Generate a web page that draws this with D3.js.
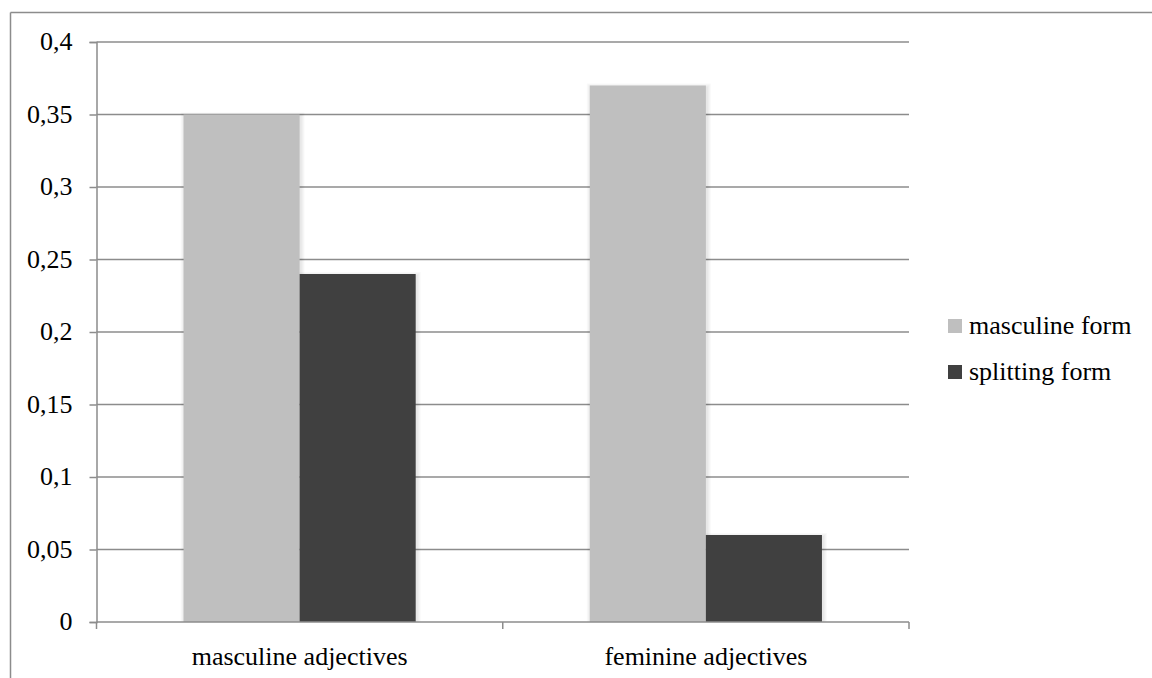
<!DOCTYPE html>
<html>
<head>
<meta charset="utf-8">
<script src="https://cdnjs.cloudflare.com/ajax/libs/d3/7.8.5/d3.min.js"></script>
</head>
<body style="margin:0">
<svg id="chart" width="1152" height="678"></svg>
<script>
const categories = ["masculine adjectives", "feminine adjectives"];
const seriesNames = ["masculine form", "splitting form"];
const masculineForm = [0.35, 0.37];
const splittingForm = [0.24, 0.06];
const yTicks = [0, 0.05, 0.1, 0.15, 0.2, 0.25, 0.3, 0.35, 0.4];
const yTickLabels = ["0", "0,05", "0,1", "0,15", "0,2", "0,25", "0,3", "0,35", "0,4"];
const colors = ["#BFBFBF", "#404040"];

const GRID = "#8c8c8c";
const svg = d3.select("#chart");
const W = 1152, H = 678;
const plot = { left: 96.5, right: 909, top: 42, bottom: 622 };

// outer frame (only top and left edges fall inside the picture)
svg.append("line").attr("x1", 10.5).attr("x2", W).attr("y1", 12.5).attr("y2", 12.5)
  .attr("stroke", GRID).attr("stroke-width", 1.5);
svg.append("line").attr("x1", 10.5).attr("x2", 10.5).attr("y1", 12.5).attr("y2", H)
  .attr("stroke", GRID).attr("stroke-width", 1.5);

const y = d3.scaleLinear().domain([0, 0.4]).range([plot.bottom, plot.top]);
const x0 = d3.scaleBand().domain(categories).range([plot.left, plot.right]).paddingInner(0).paddingOuter(0);
const x1 = d3.scaleBand().domain(seriesNames).range([0, x0.bandwidth()]).paddingInner(0).paddingOuter(0.75);

// gridlines
svg.append("g").selectAll("line")
  .data(yTicks.filter(d => d > 0))
  .join("line")
  .attr("x1", plot.left).attr("x2", plot.right)
  .attr("y1", d => y(d)).attr("y2", d => y(d))
  .attr("stroke", GRID).attr("stroke-width", 1.5);

// bars with a soft layered shadow
const data = categories.map((c, i) => ({ cat: c, vals: [masculineForm[i], splittingForm[i]] }));
const barData = data.flatMap(d => d.vals.map((v, j) => ({ cat: d.cat, name: seriesNames[j], v, j })));
const shadowLayers = [4, 3, 2, 1];
shadowLayers.forEach(s => {
  svg.append("g").selectAll("rect").data(barData).join("rect")
    .attr("x", d => x0(d.cat) + x1(d.name) - s + 1)
    .attr("width", x1.bandwidth() + 2 * s)
    .attr("y", d => y(d.v) - s + 2)
    .attr("height", d => y(0) - y(d.v) + s - 2)
    .attr("fill", "#000").attr("fill-opacity", 0.025);
});
svg.append("g").selectAll("rect").data(barData).join("rect")
  .attr("x", d => x0(d.cat) + x1(d.name))
  .attr("width", x1.bandwidth())
  .attr("y", d => y(d.v))
  .attr("height", d => y(0) - y(d.v))
  .attr("fill", d => colors[d.j]);

// y axis (line + ticks from d3.axisLeft, labels drawn below)
const yAxis = d3.axisLeft(y).tickValues(yTicks).tickFormat("").tickSize(7);
const gy = svg.append("g").attr("transform", `translate(${plot.left},0)`).call(yAxis);
gy.select(".domain").attr("stroke", GRID).attr("stroke-width", 1.5);
gy.selectAll(".tick line").attr("stroke", GRID).attr("stroke-width", 1.5);
gy.selectAll(".tick text").remove();

svg.selectAll("text.ylab").data(yTicks).join("text").attr("class", "ylab")
  .attr("x", plot.left - 24)
  .attr("y", d => y(d))
  .attr("dy", "0.32em")
  .attr("text-anchor", "end")
  .style("font-family", '"Liberation Serif"')
  .style("font-size", "26px")
  .text((d, i) => yTickLabels[i]);

// x axis
svg.append("line").attr("x1", plot.left).attr("x2", plot.right)
  .attr("y1", plot.bottom).attr("y2", plot.bottom).attr("stroke", GRID).attr("stroke-width", 1.5);
const boundaries = categories.map(c => x0(c)).concat([x0(categories[categories.length - 1]) + x0.bandwidth()]);
svg.selectAll("line.tk").data(boundaries).join("line").attr("class", "tk")
  .attr("x1", d => d).attr("x2", d => d).attr("y1", plot.bottom).attr("y2", plot.bottom + 7)
  .attr("stroke", GRID).attr("stroke-width", 1.5);
svg.selectAll("text.xlab").data(categories).join("text").attr("class", "xlab")
  .attr("x", d => x0(d) + x0.bandwidth() / 2)
  .attr("y", plot.bottom + 43)
  .attr("text-anchor", "middle")
  .style("font-family", '"Liberation Serif"')
  .style("font-size", "26px")
  .text(d => d);

// legend
svg.selectAll("rect.lg").data(seriesNames).join("rect").attr("class", "lg")
  .attr("x", 948).attr("y", (d, i) => 319 + i * 46)
  .attr("width", 14).attr("height", 14).attr("fill", (d, i) => colors[i]);
svg.selectAll("text.lg").data(seriesNames).join("text").attr("class", "lg")
  .attr("x", 969).attr("y", (d, i) => 333.5 + i * 46)
  .style("font-family", '"Liberation Serif"')
  .style("font-size", "26px")
  .text(d => d);
</script>
</body>
</html>
